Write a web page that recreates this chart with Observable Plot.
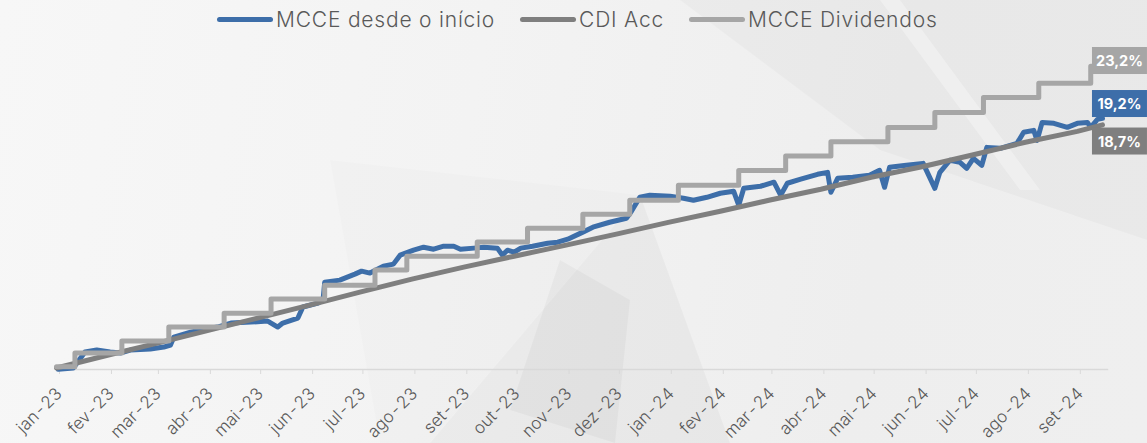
<!DOCTYPE html>
<html>
<head>
<meta charset="utf-8">
<script src="https://cdn.jsdelivr.net/npm/d3@7"></script>
<script src="https://cdn.jsdelivr.net/npm/@observablehq/plot@0.6"></script>
<style>
  html, body { margin: 0; padding: 0; }
  body {
    width: 1147px; height: 443px; overflow: hidden; position: relative;
    background: linear-gradient(100deg, #f7f7f7 0%, #f3f3f3 40%, #eeeeee 75%, #efefef 100%);
    font-family: Inter, "Open Sans", sans-serif;
  }
  #bg, #chart { position: absolute; left: 0; top: 0; }
  #legend {
    position: absolute; top: 7px; left: 217px; display: flex; align-items: center;
    font-size: 21px; font-weight: 300; letter-spacing: 0.8px; color: #595959; white-space: nowrap;
  }
  .item { display: flex; align-items: center; margin-right: 25px; }
  .sw { width: 56px; height: 5px; border-radius: 3px; margin-right: 3px; }
</style>
</head>
<body>
<svg id="bg" width="1147" height="443">
  <polygon points="430,443 640,195 730,443" fill="#000" opacity="0.03"/>
  <polygon points="510,410 560,260 630,300 615,443" fill="#000" opacity="0.03"/>
  <polygon points="680,0 1147,0 1147,240 880,150" fill="#000" opacity="0.022"/>
  <polygon points="330,160 640,195 430,443 380,443" fill="#000" opacity="0.012"/>
  <polygon points="880,0 900,0 1040,190 1020,190" fill="#fff" opacity="0.3"/>
</svg>
<div id="chart"></div>
<div id="legend"></div>
<script>
// ---------- data ----------
const seriesNames = ["MCCE desde o início", "CDI Acc", "MCCE Dividendos"];
const seriesColors = ["#3d6ea9", "#7f7f7f", "#a6a6a6"];

const mcceDates = [
  "2023-01-02","2023-01-11","2023-01-18","2023-01-25","2023-02-02","2023-02-08","2023-02-14","2023-02-26",
  "2023-03-06","2023-03-10","2023-03-12","2023-03-22","2023-03-31","2023-04-07","2023-04-15","2023-04-27",
  "2023-05-07","2023-05-13","2023-05-16","2023-05-25","2023-05-28","2023-06-06","2023-06-09","2023-06-10",
  "2023-06-19","2023-06-28","2023-07-02","2023-07-07","2023-07-15","2023-07-21","2023-07-25","2023-08-02",
  "2023-08-08","2023-08-14","2023-08-20","2023-08-26","2023-08-30","2023-09-07","2023-09-13","2023-09-21",
  "2023-09-24","2023-09-27","2023-10-01","2023-10-05","2023-10-12","2023-10-21","2023-10-27","2023-11-02",
  "2023-11-11","2023-11-17","2023-11-27","2023-12-07","2023-12-10","2023-12-15","2023-12-21","2024-01-02",
  "2024-01-10","2024-01-16","2024-01-24","2024-02-01","2024-02-09","2024-02-12","2024-02-15","2024-02-25",
  "2024-03-04","2024-03-08","2024-03-12","2024-03-20","2024-03-30","2024-04-05","2024-04-07","2024-04-11",
  "2024-04-20","2024-04-30","2024-05-06","2024-05-09","2024-05-12","2024-05-22","2024-06-01","2024-06-08",
  "2024-06-11","2024-06-17","2024-06-23","2024-06-27","2024-07-01","2024-07-06","2024-07-09","2024-07-17",
  "2024-07-27","2024-07-31","2024-08-06","2024-08-08","2024-08-11","2024-08-18","2024-08-26","2024-09-01",
  "2024-09-07","2024-09-09","2024-09-13","2024-09-16"
];
const mcceValues = [
  -0.1, 0.0, 1.23, 1.38, 1.23, 1.15, 1.38, 1.46,
  1.61, 1.77, 2.38, 2.76, 3.0, 3.15, 3.46, 3.53,
  3.61, 3.15, 3.46, 3.84, 4.69, 4.99, 5.22, 6.6,
  6.76, 7.22, 7.45, 7.3, 7.83, 7.99, 8.68, 9.06,
  9.29, 9.14, 9.37, 9.37, 9.14, 9.22, 9.29, 9.22,
  8.68, 9.06, 8.91, 9.22, 9.37, 9.6, 9.68, 9.91,
  10.45, 10.83, 11.21, 11.52, 12.06, 13.13, 13.29, 13.21,
  13.06, 12.9, 13.13, 13.44, 13.59, 12.52, 13.82, 13.98,
  14.29, 13.29, 14.21, 14.52, 14.9, 15.05, 13.52, 14.59,
  14.67, 14.82, 15.21, 13.9, 15.44, 15.59, 15.74, 13.82,
  15.05, 15.98, 15.82, 15.36, 16.13, 15.59, 16.97, 16.9,
  17.28, 18.13, 18.28, 17.51, 18.89, 18.82, 18.51, 18.82,
  18.89, 18.51, 19.12, 19.2
];

const cdiDates = [
  "2023-01-01","2023-02-01","2023-03-01","2023-04-01","2023-05-01","2023-06-01","2023-07-01","2023-08-01",
  "2023-09-01","2023-10-01","2023-11-01","2023-12-01","2024-01-01","2024-02-01","2024-03-01","2024-04-01",
  "2024-05-01","2024-06-01","2024-07-01","2024-08-01","2024-09-01","2024-09-16"
];
const cdiValues = [
  0.0, 1.0, 1.88, 2.88, 3.84, 4.84, 5.84, 6.84,
  7.76, 8.6, 9.45, 10.3, 11.2, 12.06, 12.9, 13.75,
  14.67, 15.5, 16.4, 17.36, 18.2, 18.7
];

const divDates = [
  "2023-01-01","2023-01-12","2023-02-09","2023-03-09","2023-04-11","2023-05-09","2023-06-10","2023-07-10",
  "2023-07-29","2023-09-09","2023-10-09","2023-11-11","2023-12-09","2024-01-07","2024-02-12","2024-03-11",
  "2024-04-07","2024-05-11","2024-06-08","2024-07-07","2024-08-09","2024-09-09","2024-09-16"
];
const divValues = [
  0.1, 1.15, 2.07, 3.15, 4.22, 5.3, 6.37, 7.53,
  8.6, 9.7, 10.75, 11.83, 12.9, 14.06, 15.2, 16.3,
  17.4, 18.5, 19.66, 20.8, 21.9, 23.2, 23.2
];

const endLabels = ["19,2%", "18,7%", "23,2%"];

const tickDates = [
  "2023-01-01","2023-02-01","2023-03-01","2023-04-01","2023-05-01","2023-06-01","2023-07-01",
  "2023-08-01","2023-09-01","2023-10-01","2023-11-01","2023-12-01","2024-01-01","2024-02-01",
  "2024-03-01","2024-04-01","2024-05-01","2024-06-01","2024-07-01","2024-08-01","2024-09-01"
];
const tickLabels = [
  "jan-23","fev-23","mar-23","abr-23","mai-23","jun-23","jul-23",
  "ago-23","set-23","out-23","nov-23","dez-23","jan-24","fev-24",
  "mar-24","abr-24","mai-24","jun-24","jul-24","ago-24","set-24"
];

// ---------- build ----------
const P = d3.utcParse("%Y-%m-%d");
const mk = (ds, vs) => ds.map((d, i) => ({date: P(d), v: vs[i]}));
const mcce = mk(mcceDates, mcceValues);
const cdi = mk(cdiDates, cdiValues);
const div = mk(divDates, divValues);
const ticks = tickDates.map(P);
const labelByTime = new Map(ticks.map((t, i) => [+t, tickLabels[i]]));

const ends = [
  {date: mcce[mcce.length - 1].date, v: mcce[mcce.length - 1].v, label: endLabels[0]},
  {date: cdi[cdi.length - 1].date, v: cdi[cdi.length - 1].v, label: endLabels[1]},
  {date: div[div.length - 1].date, v: div[div.length - 1].v, label: endLabels[2]}
];
const endDy = [-14, 17, -5];

const lineOpts = {x: "date", y: "v", strokeWidth: 5, strokeLinejoin: "round", strokeLinecap: "round"};
const FONT = "Inter, 'Open Sans', sans-serif";

const chart = Plot.plot({
  width: 1147,
  height: 443,
  marginLeft: 56,
  marginRight: 40,
  marginTop: 40,
  marginBottom: 74,
  style: {background: "transparent", overflow: "visible"},
  x: {type: "utc", domain: [P("2023-01-01"), P("2024-09-19")]},
  y: {domain: [-0.115, 25.19], axis: null},
  marks: [
    Plot.frame({anchor: "bottom", stroke: "#d9d9d9", strokeWidth: 1.5}),
    Plot.axisX({
      ticks: ticks,
      tickFormat: d => labelByTime.get(+d),
      tickRotate: -45,
      tickSize: 5,
      tickPadding: 16,
      dx: 3,
      stroke: "#d9d9d9",
      fill: "#595959",
      fontSize: 17,
      fontWeight: 300,
      fontFamily: FONT,
      label: null
    }),
    Plot.line(mcce, {...lineOpts, stroke: seriesColors[0]}),
    Plot.line(cdi, {...lineOpts, stroke: seriesColors[1]}),
    Plot.line(div, {...lineOpts, stroke: seriesColors[2], curve: "step-after"}),
    ...ends.map((e, i) => Plot.text([e], {
      x: "date", y: "v", text: "label", dx: 17, dy: endDy[i],
      fill: "white", fontSize: 14.5, fontWeight: 700, className: "endlab-" + i,
      fontFamily: FONT
    }))
  ]
});
document.getElementById("chart").appendChild(chart);

// boxes behind the end labels
ends.forEach((e, i) => {
  chart.querySelectorAll(".endlab-" + i + " text").forEach(t => {
    const b = t.getBBox();
    const r = document.createElementNS("http://www.w3.org/2000/svg", "rect");
    const w = 55, h = 27;
    r.setAttribute("x", b.x + b.width / 2 - w / 2);
    r.setAttribute("y", b.y + b.height / 2 - h / 2);
    r.setAttribute("width", w);
    r.setAttribute("height", h);
    r.setAttribute("fill", seriesColors[i]);
    const tr = t.getAttribute("transform");
    if (tr) r.setAttribute("transform", tr);
    t.parentNode.insertBefore(r, t);
  });
});

// legend
const lg = document.getElementById("legend");
seriesNames.forEach((n, i) => {
  const it = document.createElement("div");
  it.className = "item";
  const sw = document.createElement("div");
  sw.className = "sw";
  sw.style.background = seriesColors[i];
  const tx = document.createElement("span");
  tx.textContent = n;
  it.appendChild(sw); it.appendChild(tx);
  lg.appendChild(it);
});
</script>
</body>
</html>
